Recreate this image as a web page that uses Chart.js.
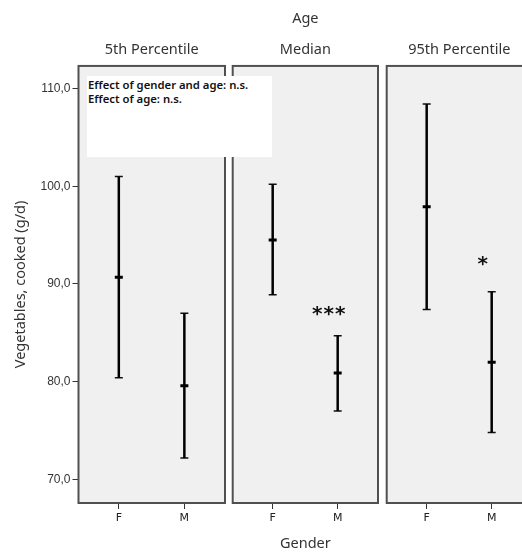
<!DOCTYPE html>
<html>
<head>
<meta charset="utf-8">
<script src="https://cdn.jsdelivr.net/npm/chart.js@4.4.1/dist/chart.umd.min.js"></script>
<style>
  body { margin: 0; width: 522px; height: 552px; overflow: hidden; background: #fff; position: relative; }
  .panel { position: absolute; top: 0; }
  #note {
    position: absolute; left: 87px; top: 76px; width: 185px; height: 81px;
    background: #fff; font: 600 11.3px "Noto Sans", sans-serif; color: #111;
    line-height: 14px; padding: 2px 0 0 1px; box-sizing: border-box; z-index: 5;
  }
</style>
</head>
<body>
<canvas id="p0" class="panel" width="228" height="552" style="left:0px"></canvas>
<canvas id="p1" class="panel" width="152" height="552" style="left:229px"></canvas>
<canvas id="p2" class="panel" width="160" height="552" style="left:383px"></canvas>
<div id="note">Effect of gender and age: n.s.<br>Effect of age: n.s.</div>
<script>
// age groups (panels) and genders (x categories)
var paneles = ['5th Percentile', 'Median', '95th Percentile'];
var generos = ['F', 'M'];

// mean and error bar limits per panel, F then M
var medias   = [[90.7, 79.6], [94.5, 80.9], [97.9, 82.0]];
var inferior = [[80.4, 72.2], [88.9, 77.0], [87.4, 74.8]];
var superior = [[101.0, 87.0], [100.2, 84.7], [108.4, 89.2]];

// significance of the gender difference, drawn above the M bar
var signif = ['', '***', '*'];
var signifY = [0, 87.2, 92.3];

var yTicks = [70, 80, 90, 100, 110];

var fondoPanel = {
    id: 'fondoPanel',
    beforeDraw: function (chart) {
        var a = chart.chartArea, ctx = chart.ctx;
        ctx.save();
        ctx.fillStyle = '#f0f0f0';
        ctx.fillRect(a.left, a.top, a.right - a.left, a.bottom - a.top);
        ctx.restore();
    },
    afterDraw: function (chart) {
        var a = chart.chartArea, ctx = chart.ctx;
        ctx.save();
        ctx.strokeStyle = '#505050';
        ctx.lineWidth = 2;
        ctx.strokeRect(a.left, a.top, a.right - a.left, a.bottom - a.top);
        // significance stars
        var k = chart.options.plugins.fondoPanel.panel;
        if (signif[k]) {
            var x = chart.scales.x.getPixelForValue(0.87);
            var y = chart.scales.y.getPixelForValue(signifY[k]);
            ctx.fillStyle = '#111';
            ctx.font = 'bold 20px "DejaVu Sans"';
            ctx.letterSpacing = '1px';
            ctx.textAlign = 'center';
            ctx.textBaseline = 'middle';
            ctx.fillText(signif[k], x, y + 3);
        }
        ctx.restore();
    }
};

var relleno = [[0, 3], [3.7, 3], [3.7, 11]];

function dibujarPanel(k) {
    var datasets = [];
    generos.forEach(function (g, i) {
        datasets.push({
            data: [{ x: i, y: inferior[k][i] }, { x: i, y: superior[k][i] }],
            showLine: true,
            borderColor: '#000',
            borderWidth: 2.5,
            pointRadius: 0
        });
    });
    var topes = [];
    generos.forEach(function (g, i) {
        topes.push({ x: i, y: inferior[k][i] });
        topes.push({ x: i, y: superior[k][i] });
    });
    datasets.push({
        data: topes,
        pointStyle: 'line',
        pointRadius: 4,
        borderColor: '#111',
        borderWidth: 1.5
    });
    datasets.push({
        data: generos.map(function (g, i) { return { x: i, y: medias[k][i] }; }),
        pointStyle: 'line',
        pointRadius: 4,
        borderColor: '#000',
        borderWidth: 3
    });

    var ctx = document.getElementById('p' + k).getContext('2d');
    return new Chart(ctx, {
        type: 'scatter',
        data: { datasets: datasets },
        plugins: [fondoPanel],
        options: {
            responsive: false,
            animation: false,
            events: [],
            layout: {
                autoPadding: false,
                padding: { left: relleno[k][0], right: relleno[k][1], top: 0, bottom: 0 }
            },
            plugins: {
                legend: { display: false },
                tooltip: { enabled: false },
                fondoPanel: { panel: k },
                title: {
                    display: true,
                    fullSize: false,
                    text: [k === 1 ? 'Age' : '', paneles[k]],
                    color: '#333',
                    font: { family: 'Noto Sans', size: 14.5, weight: 'normal', lineHeight: 2.16 },
                    padding: { top: 3.3, bottom: 0 }
                }
            },
            scales: {
                x: {
                    type: 'linear',
                    min: -0.615,
                    max: 1.62,
                    afterBuildTicks: function (s) {
                        s.ticks = generos.map(function (g, i) { return { value: i }; });
                    },
                    afterFit: function (s) { s.height = 49; },
                    border: { display: false },
                    grid: { drawOnChartArea: false, tickLength: 6, color: '#333' },
                    ticks: {
                        padding: 3,
                        color: '#222',
                        font: { family: 'DejaVu Sans', size: 11 },
                        callback: function (v) { return generos[v]; }
                    },
                    title: {
                        display: k === 1,
                        text: 'Gender',
                        color: '#333',
                        font: { family: 'Noto Sans', size: 14.5 },
                        padding: { top: 0, bottom: -1 }
                    }
                },
                y: {
                    display: k === 0,
                    min: 67.6,
                    max: 112.3,
                    afterBuildTicks: function (s) {
                        s.ticks = yTicks.map(function (v) { return { value: v }; });
                    },
                    afterFit: function (s) { s.width = k === 0 ? 78.5 : 0; },
                    border: { display: false },
                    grid: { drawOnChartArea: false, tickLength: 6, color: '#333' },
                    ticks: {
                        padding: 2,
                        color: '#333',
                        font: { family: 'Liberation Sans', size: 12 },
                        callback: function (v) { return v.toFixed(1).replace('.', ','); }
                    },
                    title: {
                        display: true,
                        text: 'Vegetables, cooked (g/d)',
                        color: '#333',
                        font: { family: 'Noto Sans', size: 14.5 },
                        padding: { top: 12, bottom: 0 }
                    }
                }
            }
        }
    });
}

paneles.forEach(function (p, k) { dibujarPanel(k); });
</script>
</body>
</html>
